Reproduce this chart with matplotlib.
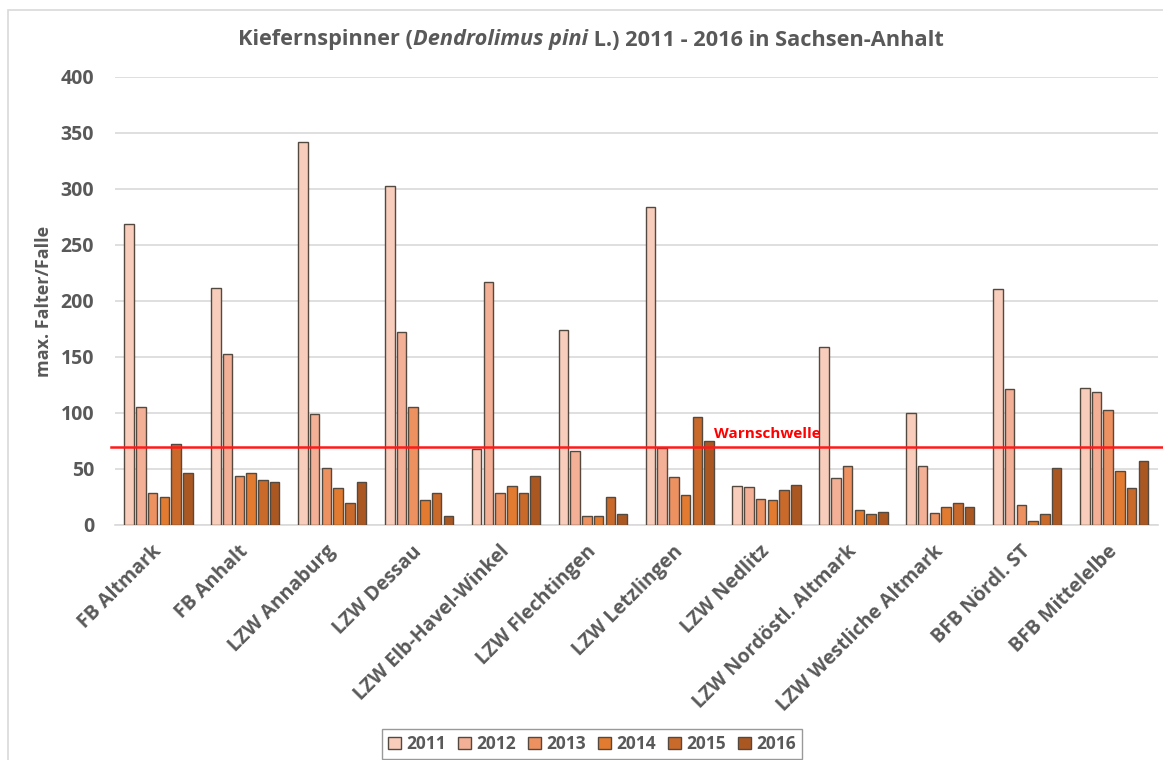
import matplotlib
matplotlib.use("Agg")
import matplotlib.pyplot as plt
import numpy as np
from matplotlib.patches import Rectangle

categories = ["FB Altmark", "FB Anhalt", "LZW Annaburg", "LZW Dessau",
              "LZW Elb-Havel-Winkel", "LZW Flechtingen", "LZW Letzlingen",
              "LZW Nedlitz", "LZW Nordöstl. Altmark", "LZW Westliche Altmark",
              "BFB Nördl. ST", "BFB Mittelelbe"]
years = ["2011", "2012", "2013", "2014", "2015", "2016"]
v2011 = [269, 212, 342, 303, 68, 174, 284, 35, 159, 100, 211, 122]
v2012 = [105, 153, 99, 172, 217, 66, 69, 34, 42, 53, 121, 119]
v2013 = [29, 44, 51, 105, 29, 8, 43, 23, 53, 11, 18, 103]
v2014 = [25, 46, 33, 22, 35, 8, 27, 22, 13, 16, 4, 48]
v2015 = [72, 40, 20, 29, 29, 25, 96, 31, 10, 20, 10, 33]
v2016 = [46, 38, 38, 8, 44, 10, 75, 36, 12, 16, 51, 57]
series = [v2011, v2012, v2013, v2014, v2015, v2016]
colors = ["#F8CDBC", "#F3B096", "#EE9160", "#E27A2F", "#C9692A", "#AA5722"]
threshold = 70
threshold_label = "Warnschwelle"
yticks = [0, 50, 100, 150, 200, 250, 300, 350, 400]
title_parts = [("Kiefernspinner (", 'normal'), ("Dendrolimus pini", 'italic'),
               (" L.) 2011 - 2016 in Sachsen-Anhalt", 'normal')]

plt.rcParams['font.family'] = ['Open Sans', 'DejaVu Sans']
grey = "#595959"

fig = plt.figure(figsize=(11.63, 7.6), dpi=100)
ax = fig.add_axes([115/1163, 1-525/760, (1157.5-115)/1163, (525-77)/760])

# chart area border
fig.patches.append(Rectangle((8/1163, -0.05), 1.2, 1 - 10/760 + 0.05,
                             transform=fig.transFigure, fill=False,
                             edgecolor="#D9D9D9", linewidth=1.2))

x = np.arange(len(categories))
slot = 0.135
bw = 0.11
for i, (vals, c, yr) in enumerate(zip(series, colors, years)):
    ax.bar(x + (i - 2.5) * slot, vals, width=bw, color=c, edgecolor="#54493F",
           linewidth=1.0, label=yr, zorder=3)

ax.set_xlim(-0.5, len(categories) - 0.5)
ax.set_ylim(0, 400)
ax.set_yticks(yticks)
ax.set_yticklabels([str(t) for t in yticks], fontsize=14, fontweight='bold', color=grey)
ax.grid(axis='y', color="#D9D9D9", linewidth=1.2, zorder=0)
ax.set_axisbelow(True)
for s in ["top", "right", "left"]:
    ax.spines[s].set_visible(False)
ax.spines["bottom"].set_color("#D9D9D9")
ax.spines["bottom"].set_linewidth(1.2)
ax.tick_params(axis='both', length=0)
ax.tick_params(axis='y', pad=15)

ax.set_xticks(x - 0.08)
ax.set_xticklabels(categories, rotation=45, ha='right', rotation_mode='anchor',
                   fontsize=14, fontweight='bold', color=grey)
ax.tick_params(axis='x', pad=12)

ax.axhline(threshold, xmin=-0.004, xmax=1.01, color="#FF1A1A", linewidth=1.8,
           zorder=4, clip_on=False)
ax.text(6.39, threshold + 5, threshold_label, color="#FF0000", fontsize=11,
        fontweight='bold', ha='left', va='bottom', zorder=5)

ax.set_ylabel("max. Falter/Falle", fontsize=13, fontweight='bold', color=grey)
ax.yaxis.set_label_coords(-62/1042.5, 0.5)

# title built from parts to get the italic segment
fig.canvas.draw()
renderer = fig.canvas.get_renderer()
texts = []
widths = []
for s, st in title_parts:
    t = fig.text(0, 1 - 40/760, s, fontsize=15.7, fontweight='bold', style=st,
                 color=grey, va='center', ha='left')
    texts.append(t)
    widths.append(t.get_window_extent(renderer=renderer).width)
total = sum(widths)
xstart = 591 - total / 2
for t, w in zip(texts, widths):
    t.set_x(xstart / 1163)
    xstart += w

leg = fig.legend(loc='center', bbox_to_anchor=(592/1163, 1 - 744/760), ncol=6,
                 frameon=True, fancybox=False, edgecolor="#808080",
                 prop={'size': 12.5, 'weight': 'bold'}, handlelength=0.75,
                 handleheight=0.75, handletextpad=0.3, columnspacing=0.7,
                 borderpad=0.35)
for t in leg.get_texts():
    t.set_color(grey)
leg.get_frame().set_linewidth(1.0)

fig.savefig("out.png", dpi=100)
